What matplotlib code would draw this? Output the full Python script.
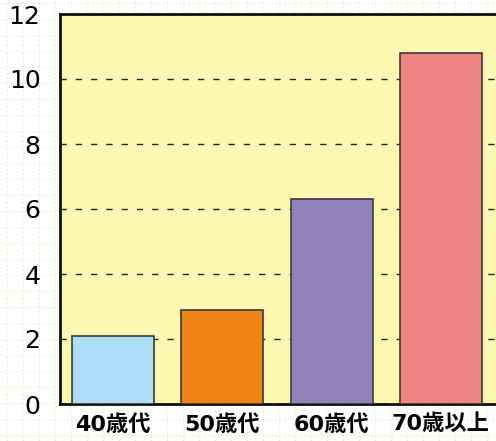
import matplotlib.pyplot as plt

plt.rcParams["font.family"] = ["DejaVu Sans", "Noto Sans CJK JP"]

categories = ["40歳代", "50歳代", "60歳代", "70歳以上"]
values = [2.1, 2.9, 6.3, 10.8]
bar_colors = ["#acdff6", "#ef8316", "#9282ba", "#ef8582"]
y_ticks = [0, 2, 4, 6, 8, 10, 12]

W, H = 496, 441
fig = plt.figure(figsize=(W / 100, H / 100), dpi=100)
fig.patch.set_facecolor("white")

# dotted paper-like background grid
bg = fig.add_axes([0, 0, 1, 1], zorder=-10)
bg.set_xlim(0, W)
bg.set_ylim(H, 0)
bg.set_xticks([x + 7 for x in range(0, W, 16)])
bg.set_yticks([y + 3 for y in range(0, H, 16)])
bg.grid(True, color="#e6edc0", linestyle=(0, (1, 2)), linewidth=1)
bg.tick_params(length=0, labelbottom=False, labelleft=False)
for s in bg.spines.values():
    s.set_visible(False)

ax = fig.add_axes([60 / W, 37 / H, 470 / W, 390 / H])
ax.set_facecolor("#fef7b1")
x = list(range(len(categories)))
ax.bar(x, values, width=0.75, color=bar_colors, edgecolor="#3a3a3a",
       linewidth=1.2, zorder=3)
ax.set_xlim(-0.485, 3.815)
ax.set_ylim(0, 12)
ax.set_yticks(y_ticks)
ax.set_yticklabels([str(t) for t in y_ticks], fontsize=18)
ax.set_xticks(x)
ax.set_xticklabels(categories, fontsize=16, fontweight="bold")
ax.tick_params(axis="y", length=0, pad=14)
ax.tick_params(axis="x", length=0, pad=7)
ax.yaxis.grid(True, color="#222222", linestyle=(0, (4.5, 6.5)), linewidth=1)
ax.set_axisbelow(True)
for s in ax.spines.values():
    s.set_linewidth(2)
    s.set_color("#111111")

fig.savefig("out.png", dpi=100)
